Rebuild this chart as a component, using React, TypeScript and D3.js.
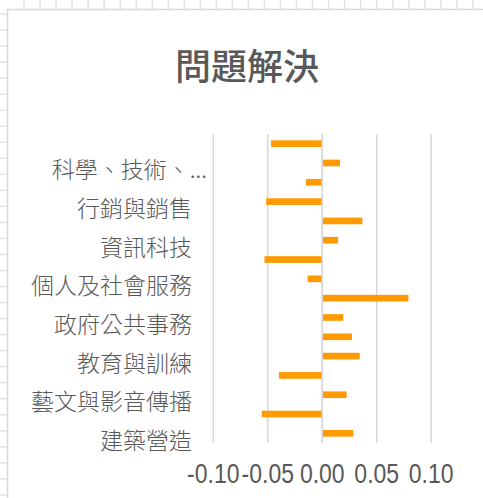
import React from "react";
import * as d3 from "d3";

// categories listed top to bottom as drawn
const categories = [
  "司法、法律與公共安全",
  "科學、技術、工程、數學",
  "天然資源、食品與農業",
  "行銷與銷售",
  "休閒與觀光旅遊",
  "資訊科技",
  "企業經營管理",
  "個人及社會服務",
  "金融財務",
  "政府公共事務",
  "醫療保健",
  "教育與訓練",
  "物流運輸",
  "藝文與影音傳播",
  "製造",
  "建築營造",
];

const values = [
  -0.047, 0.0163, -0.015, -0.0515, 0.0368, 0.0144, -0.053, -0.0134,
  0.0791, 0.0193, 0.0273, 0.0344, -0.0398, 0.0224, -0.0555, 0.0285,
];

const xTicks = [-0.1, -0.05, 0, 0.05, 0.1];

const title = "問題解決";

const W = 483;
const H = 498;

const cjk = '"Noto Sans CJK TC", "Noto Sans CJK SC", sans-serif';
const textColor = "#595959";

// Excel truncates long category names
const isLong = (s: string) => s.length > 7;
const shortName = (s: string) => (isLong(s) ? s.slice(0, 6) + "..." : s);

export default function App() {
  const plot = { left: 213.3, right: 431.2, top: 134, bottom: 443 };

  const x = d3.scaleLinear().domain([-0.1, 0.1]).range([plot.left, plot.right]);
  const y = d3
    .scaleBand<string>()
    .domain(categories)
    .range([plot.top, plot.bottom])
    .paddingInner(0.655)
    .paddingOuter(0.3275);

  // spreadsheet grid peeking around the chart
  const colLines = d3.range(24, W, 16.03);
  const rowLines = d3.range(14, H, 16.03);

  return (
    <svg
      width={W}
      height={H}
      style={{ position: "absolute", left: 0, top: 0, background: "#fff" }}
    >
      {colLines.map((cx, i) => (
        <line key={"c" + i} x1={cx} x2={cx} y1={0} y2={9} stroke="#e3e3e3" strokeWidth={1.5} />
      ))}
      {rowLines.map((ry, i) => (
        <line key={"r" + i} x1={0} x2={7} y1={ry} y2={ry} stroke="#e3e3e3" strokeWidth={1.5} />
      ))}

      {/* chart area */}
      <rect x={7.5} y={9.5} width={W} height={H} fill="#fff" stroke="#d9d9d9" strokeWidth={1.5} />

      <text
        x={247}
        y={64}
        textAnchor="middle"
        dominantBaseline="central"
        fontFamily={cjk}
        fontSize={36}
        fontWeight={500}
        fill={textColor}
      >
        {title}
      </text>

      {/* gridlines */}
      {xTicks.map((t) => (
        <line
          key={"g" + t}
          x1={x(t)}
          x2={x(t)}
          y1={plot.top}
          y2={plot.bottom}
          stroke="#d9d9d9"
          strokeWidth={1.5}
        />
      ))}

      {/* bars */}
      {categories.map((c, i) => {
        const v = values[i];
        const x0 = x(Math.min(0, v));
        const x1 = x(Math.max(0, v));
        return (
          <rect
            key={"b" + c}
            x={x0}
            y={y(c)}
            width={x1 - x0}
            height={y.bandwidth()}
            fill="#ff9a00"
          />
        );
      })}

      {/* vertical axis line at zero */}
      <line x1={x(0)} x2={x(0)} y1={plot.top} y2={plot.bottom} stroke="#d9d9d9" strokeWidth={1.5} />

      {/* category labels, every second one */}
      {categories.map((c, i) =>
        i % 2 === 1 ? (
          <text
            key={"l" + c}
            x={192}
            dx={isLong(c) ? 15 : 0}
            y={(y(c) || 0) + y.bandwidth() / 2 + 5.5}
            textAnchor="end"
            dominantBaseline="central"
            fontFamily={cjk}
            fontSize={23}
            fontWeight={300}
            fill={textColor}
          >
            {shortName(c)}
          </text>
        ) : null
      )}

      {/* value axis labels */}
      {xTicks.map((t) => (
        <text
          key={"t" + t}
          transform={`translate(${x(t)},483) scale(1,1.22)`}
          textAnchor="middle"
          fontFamily='"Liberation Sans", Arial, sans-serif'
          fontSize={23}
          fill={textColor}
        >
          {d3.format(".2f")(t).replace("−", "-")}
        </text>
      ))}
    </svg>
  );
}
